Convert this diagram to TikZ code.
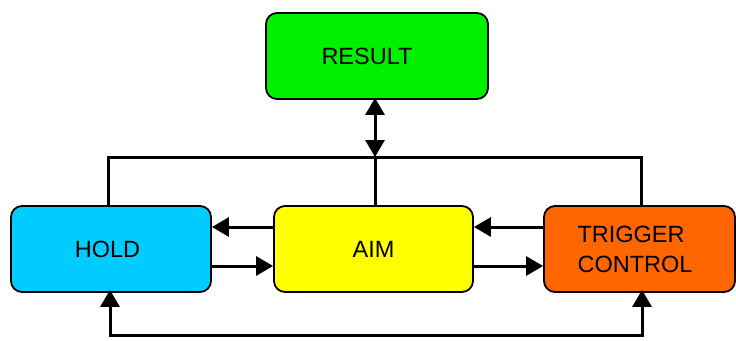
\documentclass[tikz,border=0pt]{standalone}
\usepackage{fontspec}
\setmainfont{Liberation Sans}
\usetikzlibrary{arrows.meta}

\definecolor{resgreen}{HTML}{00F000}
\definecolor{holdcyan}{HTML}{00CCFF}
\definecolor{aimyellow}{HTML}{FFFF00}
\definecolor{trigorange}{HTML}{FF6600}

\tikzset{
  block/.style={draw=black, line width=1.8pt, rounded corners=11pt,
    minimum height=86pt, inner sep=0pt, align=left,
    font=\fontsize{23.5}{30}\selectfont},
  wire/.style={line width=3pt},
  tip/.tip={Triangle[length=17pt,width=19pt]},
  arr/.style={wire, -tip},
  darr/.style={wire, tip-tip}
}

\begin{document}
\begin{tikzpicture}[x=1pt,y=-1pt]
  \useasboundingbox (0,0) rectangle (736,340);

  % blocks (trailing spaces nudge the labels a little to the left)
  \node[block, fill=resgreen, minimum width=222pt] (result) at (377,56) {RESULT\hspace*{20pt}};
  \node[block, fill=holdcyan, minimum width=200pt] (hold) at (111,249) {HOLD\hspace*{7pt}};
  \node[block, fill=aimyellow, minimum width=199pt] (aim) at (373.5,249) {AIM};
  \node[block, fill=trigorange, minimum width=191pt] (trig) at (639.5,249) {TRIGGER\\CONTROL\hspace*{9pt}};

  % reference points of the buses
  \coordinate (busL) at (108,157);
  \coordinate (busR) at (641,157);
  \coordinate (busM) at (375,157);
  \coordinate (botL) at (110,335);
  \coordinate (botR) at (642,335);
  \coordinate (up) at (0,227);
  \coordinate (dn) at (0,266);

  % upper bus joining HOLD, AIM and TRIGGER CONTROL
  \draw[wire] (hold.north -| busL) -- (busL) -- (busR) -- (trig.north -| busR);
  \draw[wire] (aim.north -| busM) -- (busM);
  \draw[darr] (busM) -- ([yshift=2pt]result.south -| busM);

  % links between the blocks
  \draw[arr] (aim.west |- up) -- (hold.east |- up);
  \draw[arr] (hold.east |- dn) -- (aim.west |- dn);
  \draw[arr] (trig.west |- up) -- (aim.east |- up);
  \draw[arr] (aim.east |- dn) -- (trig.west |- dn);

  % lower return path
  \draw[darr] ([yshift=3pt]hold.south -| botL) -- (botL) -- (botR) -- ([yshift=3pt]trig.south -| botR);
\end{tikzpicture}
\end{document}
